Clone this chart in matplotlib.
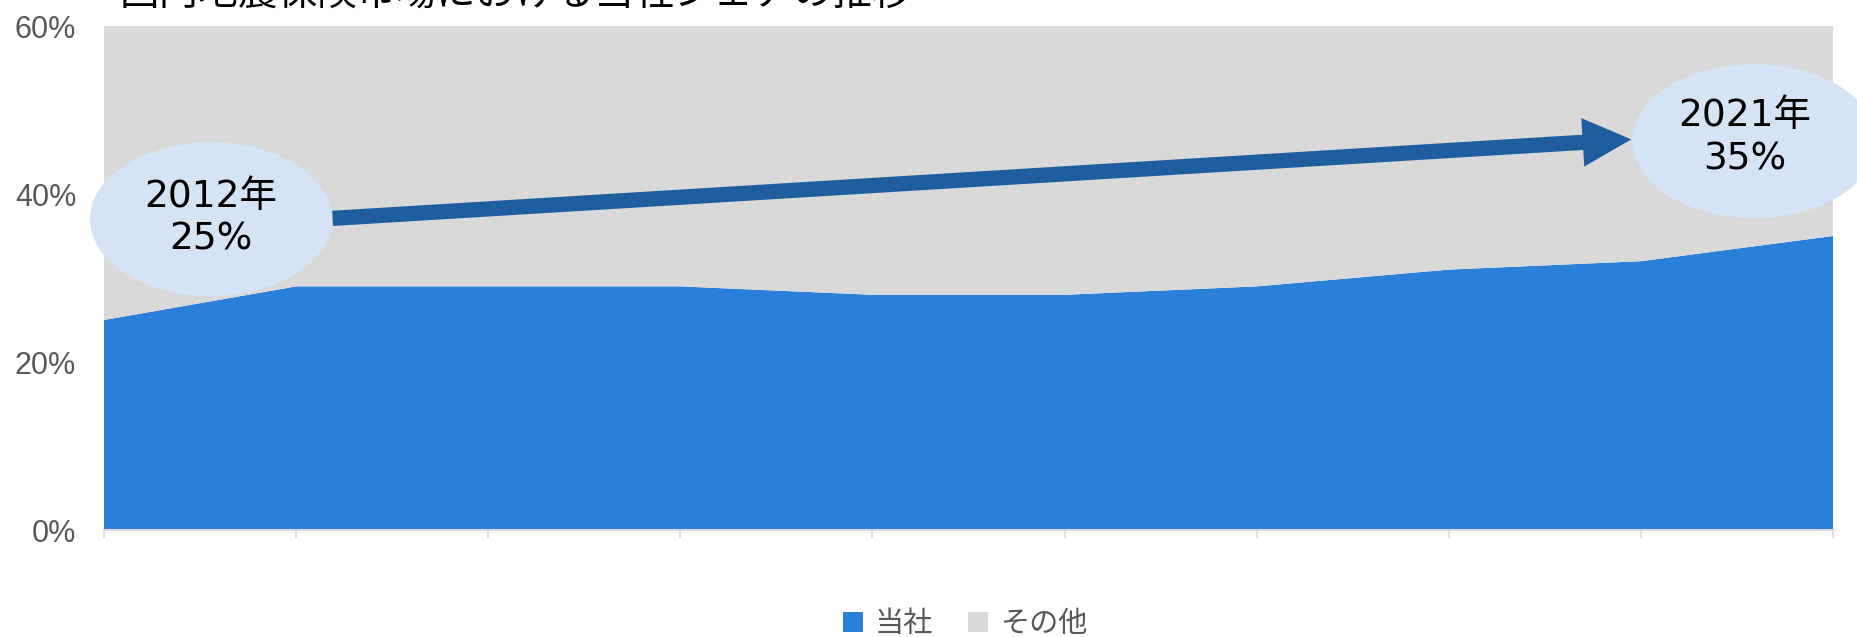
import matplotlib
matplotlib.use('Agg')
import numpy as np
import matplotlib.pyplot as plt
from matplotlib.patches import Ellipse, FancyArrowPatch, Patch
from matplotlib.ticker import FuncFormatter

plt.rcParams['font.family'] = ['Noto Sans CJK JP', 'DejaVu Sans']

# 国内地震保険市場の当社シェア（%）
years = [2012, 2013, 2014, 2015, 2016, 2017, 2018, 2019, 2020, 2021]
share = [25, 29, 29, 29, 28, 28, 29, 31, 32, 35]
others = [100 - s for s in share]
series_names = ['当社', 'その他']
title = '国内地震保険市場における当社シェアの推移'
bubble_left = '2012年\n25%'
bubble_right = '2021年\n35%'

c_blue = '#2A7FD8'
c_gray = '#D9D9D9'
c_bubble = '#D5E4F5'
c_arrow = '#1F5E9E'
c_text = '#595959'


def main():
    fig = plt.figure(figsize=(18.58, 6.37), dpi=100)
    ax = fig.add_axes([104 / 1858, 1 - 530 / 637, (1833 - 104) / 1858, (530 - 26) / 637])

    x = np.arange(len(years))
    ax.stackplot(x, share, others, colors=[c_blue, c_gray], linewidth=0)
    ax.set_xlim(x[0], x[-1])
    ax.set_ylim(0, 60)
    ax.set_yticks([0, 20, 40, 60])
    ax.yaxis.set_major_formatter(FuncFormatter(lambda v, p: '%d%%' % v))
    for lab in ax.get_yticklabels():
        lab.set_family('Liberation Sans')
    ax.tick_params(axis='y', length=0, labelsize=22, labelcolor=c_text, pad=20)
    ax.set_xticks(x)
    ax.set_xticklabels([])
    ax.tick_params(axis='x', length=6, color=c_gray, width=1.2)
    for s in ['left', 'right', 'top']:
        ax.spines[s].set_visible(False)
    ax.spines['bottom'].set_color(c_gray)
    ax.spines['bottom'].set_linewidth(1.5)

    # 吹き出し（楕円）と矢印
    p1 = (0.557, 37.0)
    p2 = (8.59, 46.3)
    e1 = Ellipse(p1, 1.26, 18.3, facecolor=c_bubble, edgecolor='none', zorder=4, clip_on=False)
    e2 = Ellipse(p2, 1.27, 18.3, facecolor=c_bubble, edgecolor='none', zorder=4, clip_on=False)
    ax.add_patch(e1)
    ax.add_patch(e2)
    arr = FancyArrowPatch((1.19, 37.1), (7.95, 46.5),
                          arrowstyle='simple,head_length=35,head_width=35,tail_width=11',
                          mutation_scale=1, shrinkA=0, shrinkB=0,
                          facecolor=c_arrow, edgecolor='none', zorder=3, clip_on=False)
    ax.add_patch(arr)
    bfont = ['DejaVu Sans', 'Noto Sans CJK JP']
    ax.text(p1[0], p1[1] + 0.1, bubble_left, ha='center', va='center', fontsize=27,
            linespacing=1.25, color='black', zorder=5, family=bfont)
    ax.text(p2[0] - 0.05, p2[1] + 0.4, bubble_right, ha='center', va='center', fontsize=27,
            linespacing=1.25, color='black', zorder=5, family=bfont)

    # タイトル（上端で切れている）
    fig.text(120 / 1858, 1 - 6 / 637, title, ha='left', va='baseline', fontsize=28.5, color='black')

    handles = [Patch(facecolor=c_blue, edgecolor='none'), Patch(facecolor=c_gray, edgecolor='none')]
    fig.legend(handles, series_names, loc='center', bbox_to_anchor=(965 / 1858, 1 - 624 / 637),
               ncol=2, frameon=False, fontsize=21, labelcolor=c_text,
               handlelength=0.7, handleheight=0.7, handletextpad=0.4, columnspacing=1.2)

    fig.savefig('out.png', dpi=100)


if __name__ == "__main__":
    main()
